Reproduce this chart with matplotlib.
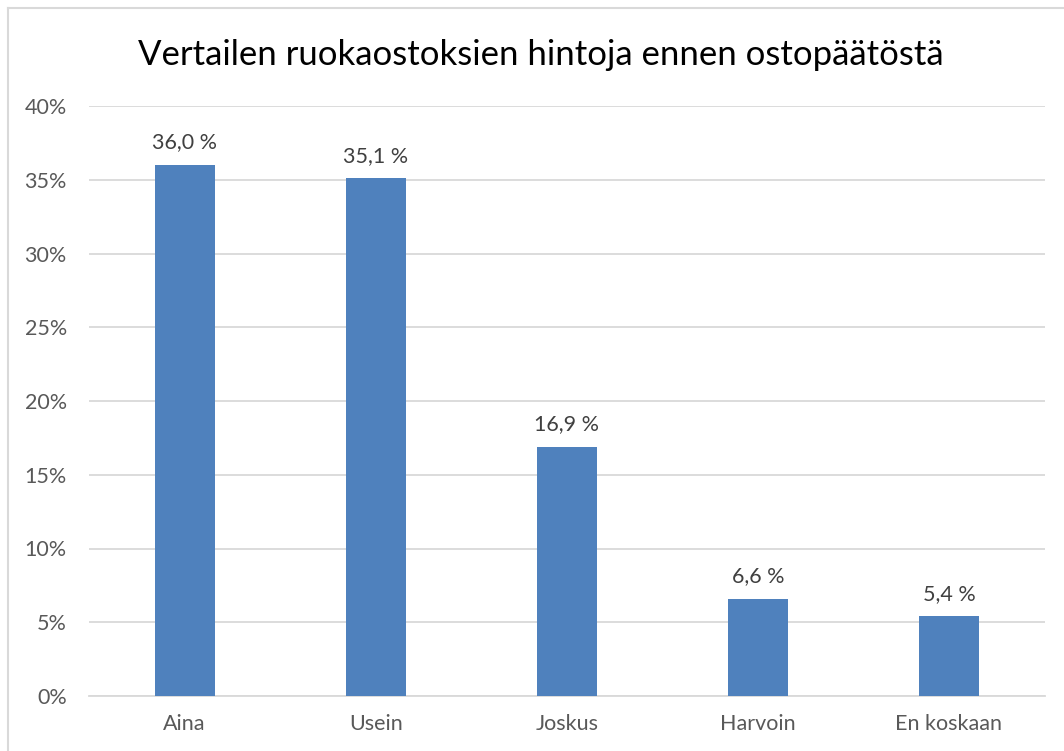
import matplotlib
matplotlib.use("Agg")
import matplotlib.pyplot as plt
from matplotlib.lines import Line2D
from matplotlib.ticker import FuncFormatter

plt.rcParams['font.family'] = ['Lato', 'DejaVu Sans']

# data
categories = ["Aina", "Usein", "Joskus", "Harvoin", "En koskaan"]
values = [36.0, 35.1, 16.9, 6.6, 5.4]
title = "Vertailen ruokaostoksien hintoja ennen ostopäätöstä"

W, H = 1064, 751
fig = plt.figure(figsize=(W / 100, H / 100), dpi=100)
ax = fig.add_axes([89 / W, 55 / H, (1044.5 - 89) / W, (697 - 107) / H])

bar_color = "#4F81BD"
text_color = "#595959"
grid_color = "#D9D9D9"

x = range(len(categories))
bars = ax.bar(x, values, width=0.314, color=bar_color, zorder=3)

for b, v in zip(bars, values):
    ax.annotate("{:.1f} %".format(v).replace(".", ","),
                (b.get_x() + b.get_width() / 2, v),
                xytext=(0, 9), textcoords="offset points",
                ha="center", va="bottom", fontsize=15.5, color="#404040")

ax.set_xlim(-0.5, len(categories) - 0.5)
ax.set_ylim(0, 40)
ax.set_yticks(range(0, 41, 5))
ax.yaxis.set_major_formatter(FuncFormatter(lambda v, p: "{:d}%".format(int(v))))
ax.set_xticks(list(x))
ax.set_xticklabels(categories)

ax.grid(axis="y", color=grid_color, linewidth=1.3, zorder=0)
for s in ["top", "right", "left"]:
    ax.spines[s].set_visible(False)
ax.spines["bottom"].set_color(grid_color)
ax.spines["bottom"].set_linewidth(1.3)
ax.tick_params(axis="both", length=0, labelsize=15.5, labelcolor=text_color)
ax.tick_params(axis="y", pad=16)
ax.tick_params(axis="x", pad=13)

fig.text(541 / W, 1 - 55 / H, title, ha="center", va="center",
         fontsize=25, color="#000000")

# chart border (left and top edges visible)
fig.add_artist(Line2D([8 / W, 8 / W], [0, 1 - 8 / H], transform=fig.transFigure,
                      color="#D9D9D9", linewidth=1.5))
fig.add_artist(Line2D([8 / W, 1], [1 - 8 / H, 1 - 8 / H], transform=fig.transFigure,
                      color="#D9D9D9", linewidth=1.5))

fig.savefig("out.png", dpi=100, facecolor="white")
